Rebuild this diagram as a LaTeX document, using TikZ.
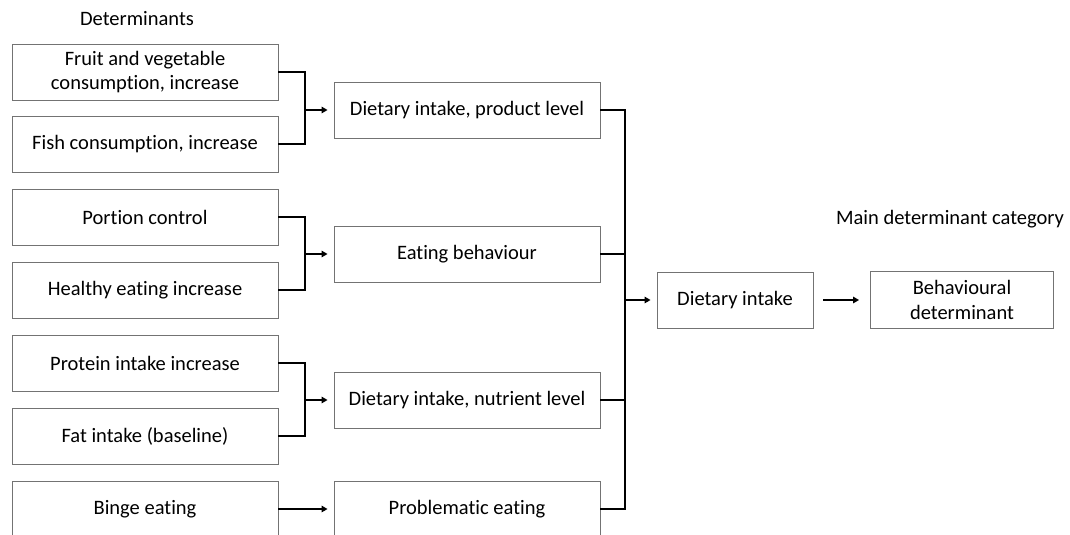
\documentclass[tikz,border=0pt]{standalone}
\usepackage{fontspec}
\setmainfont{Carlito}[Ligatures={NoCommon,NoContextual}]
\usetikzlibrary{arrows.meta,positioning,calc}
\tikzset{
  detbox/.style={draw=black!55, line width=0.9pt, minimum width=266pt, minimum height=56pt, align=center, inner sep=2pt},
  link/.style={black, line width=2pt},
  arr/.style={link, -{Triangle[length=6pt,width=6.5pt]}, shorten >=6pt},
  head/.style={align=center}
}

\begin{document}
\begin{tikzpicture}[x=1pt,y=-1pt,font=\fontsize{20.5}{24.5}\selectfont]
  \clip (0,0) rectangle (1070,535);
  % determinants
  \node[head] (hdet) at (137,19) {Determinants};
  \node[detbox] (fv) at (145,72) {Fruit and vegetable\\consumption, increase};
  \node[detbox] (fish) at (145,144) {Fish consumption, increase};
  \node[detbox] (port) at (145,217) {Portion control};
  \node[detbox] (heal) at (145,290) {Healthy eating increase};
  \node[detbox] (prot) at (145,363) {Protein intake increase};
  \node[detbox] (fat) at (145,436) {Fat intake (baseline)};
  \node[detbox] (binge) at (145,509) {Binge eating};
  % sub categories
  \node[detbox] (prod) at (467,110) {Dietary intake, product level};
  \node[detbox] (behav) at (467,254) {Eating behaviour};
  \node[detbox] (nutr) at (467,400) {Dietary intake, nutrient level};
  \node[detbox] (probl) at (467,509) {Problematic eating};
  % main category
  \node[detbox, minimum width=156pt] (diet) at (735,300) {Dietary intake};
  \node[detbox, minimum width=183pt, minimum height=57pt] (bdet) at (962,300) {Behavioural\\determinant};
  \node[head] (hmain) at (950,219) {Main determinant category};
  % joints
  \foreach \a/\b/\m in {fv/fish/prod, port/heal/behav, prot/fat/nutr}{
    \coordinate (j\m) at ($(\m.west)+(-29,0)$);
    \draw[link] (\a.east) -| (j\m) |- (\b.east);
    \draw[arr] (j\m) -- (\m.west);
  }
  \draw[arr] (binge.east) -- (probl.west);
  \coordinate (bus) at ($(probl.east)+(25,0)$);
  \draw[link] (prod.east) -| (bus) -- (probl.east);
  \draw[link] (behav.east) -- (behav.east -| bus);
  \draw[link] (nutr.east) -- (nutr.east -| bus);
  \draw[arr] (diet.west -| bus) -- (diet.west);
  \draw[arr, shorten <=10pt, shorten >=11pt] (diet) -- (bdet);
\end{tikzpicture}
\end{document}
